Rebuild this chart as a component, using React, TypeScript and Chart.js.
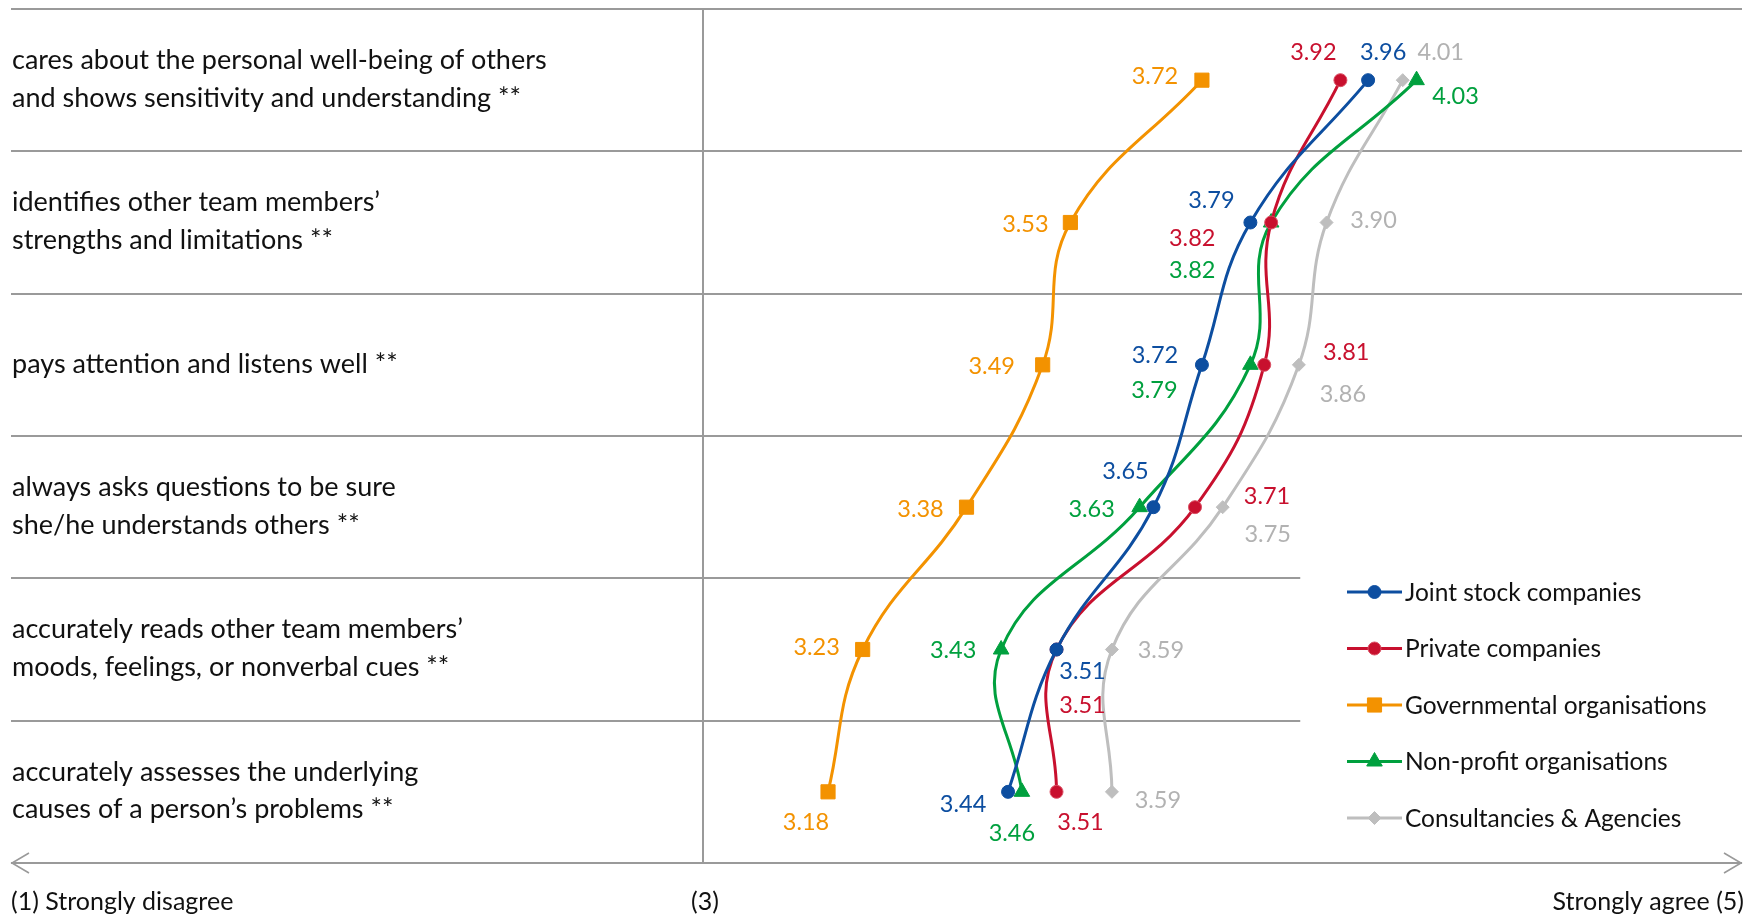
import React, { useEffect, useRef } from 'react';
import { Chart, registerables } from 'chart.js';
import { drawPoint } from 'chart.js/helpers';

Chart.register(...registerables);

// ---------- data ----------
const ROW_LABELS: string[][] = [
  ['cares about the personal well-being of others', 'and shows sensitivity and understanding **'],
  ['identifies other team members’', 'strengths and limitations **'],
  ['pays attention and listens well **'],
  ['always asks questions to be sure', 'she/he understands others **'],
  ['accurately reads other team members’', 'moods, feelings, or nonverbal cues **'],
  ['accurately assesses the underlying', 'causes of a person’s problems **'],
];

const SERIES_NAMES = [
  'Joint stock companies',
  'Private companies',
  'Governmental organisations',
  'Non-profit organisations',
  'Consultancies & Agencies',
];

const JOINT_STOCK = [3.96, 3.79, 3.72, 3.65, 3.51, 3.44];
const PRIVATE = [3.92, 3.82, 3.81, 3.71, 3.51, 3.51];
const GOVERNMENTAL = [3.72, 3.53, 3.49, 3.38, 3.23, 3.18];
const NON_PROFIT = [4.03, 3.82, 3.79, 3.63, 3.43, 3.46];
const CONSULTANCIES = [4.01, 3.9, 3.86, 3.75, 3.59, 3.59];

const AXIS_LABELS = ['(1) Strongly disagree', '(3)', 'Strongly agree (5)'];
const X_MIN = 2;
const X_MAX = 4.5;
const X_MID = 3;
const SHORT_GRID_END = 3.862;

// ---------- styles ----------
const FONT = 'Lato, "Open Sans", "DejaVu Sans", sans-serif';
const GRID_COLOR = '#9A9A9A';
const TEXT_COLOR = '#111111';

const SERIES_STYLE = [
  { color: '#0D4EA0', label: '#0D4EA0', pointStyle: 'circle', radius: 6.5, border: '#0D4EA0' },
  { color: '#C8102E', label: '#C8102E', pointStyle: 'circle', radius: 6.5, border: '#DA5064' },
  { color: '#F39200', label: '#F39200', pointStyle: 'rect', radius: 10, border: '#F39200' },
  { color: '#00A03E', label: '#00A03E', pointStyle: 'triangle', radius: 9, border: '#00A03E' },
  { color: '#BEBEBE', label: '#B2B2B2', pointStyle: 'rectRot', radius: 6.5, border: '#BEBEBE' },
];

// label centre offsets (px) relative to each point
const LABEL_OFFSETS: number[][][] = [
  [[15, -28], [-39, -22], [-47, -9], [-28, -36], [26, 22], [-45, 13]],
  [[-27, -28], [-79, 16], [82, -12], [72, -11], [26, 56], [24, 31]],
  [[-47, -4], [-45, 2], [-51, 2], [-46, 2], [-46, -2], [-22, 31]],
  [[39, 16], [-79, 48], [-96, 26], [-48, 2], [-48, 1], [-10, 42]],
  [[38, -28], [47, -2], [44, 30], [45, 27], [49, 1], [46, 9]],
];

const SERIES_VALUES = [JOINT_STOCK, PRIVATE, GOVERNMENTAL, NON_PROFIT, CONSULTANCIES];

const gridPlugin = {
  id: 'gridPlugin',
  beforeDatasetsDraw(chart: any) {
    const { ctx, chartArea, scales } = chart;
    const x = scales.x;
    const y = scales.y;
    ctx.save();
    ctx.strokeStyle = GRID_COLOR;
    ctx.lineWidth = 2;
    for (let i = 0; i < ROW_LABELS.length; i++) {
      const py = Math.round(y.getPixelForValue(i - 0.5));
      const endX = i >= 4 ? x.getPixelForValue(SHORT_GRID_END) : chartArea.right;
      ctx.beginPath();
      ctx.moveTo(chartArea.left, py);
      ctx.lineTo(endX, py);
      ctx.stroke();
    }
    // vertical midpoint line
    const mx = Math.round(x.getPixelForValue(X_MID));
    ctx.beginPath();
    ctx.moveTo(mx, chartArea.top);
    ctx.lineTo(mx, chartArea.bottom);
    ctx.stroke();
    // bottom axis with arrows
    const by = Math.round(chartArea.bottom);
    ctx.beginPath();
    ctx.moveTo(chartArea.left, by);
    ctx.lineTo(chartArea.right, by);
    ctx.stroke();
    ctx.lineWidth = 1.6;
    ctx.beginPath();
    ctx.moveTo(chartArea.left + 18, by - 10);
    ctx.lineTo(chartArea.left + 1, by);
    ctx.lineTo(chartArea.left + 18, by + 10);
    ctx.moveTo(chartArea.right - 18, by - 10);
    ctx.lineTo(chartArea.right - 1, by);
    ctx.lineTo(chartArea.right - 18, by + 10);
    ctx.stroke();
    // axis labels
    ctx.fillStyle = TEXT_COLOR;
    ctx.font = `25px ${FONT}`;
    ctx.textBaseline = 'middle';
    const ty = by + 39;
    ctx.textAlign = 'left';
    ctx.fillText(AXIS_LABELS[0], x.getPixelForValue(X_MIN), ty);
    ctx.textAlign = 'center';
    ctx.fillText(AXIS_LABELS[1], mx + 2, ty);
    ctx.textAlign = 'right';
    ctx.fillText(AXIS_LABELS[2], x.getPixelForValue(X_MAX) + 2, ty);
    ctx.restore();
  },
};

const labelPlugin = {
  id: 'labelPlugin',
  afterDatasetsDraw(chart: any) {
    const { ctx } = chart;
    ctx.save();
    ctx.font = `23.5px ${FONT}`;
    ctx.textAlign = 'center';
    ctx.textBaseline = 'middle';
    chart.data.datasets.forEach((ds: any, di: number) => {
      const meta = chart.getDatasetMeta(di);
      ctx.fillStyle = SERIES_STYLE[di].label;
      meta.data.forEach((pt: any, i: number) => {
        const [dx, dy] = LABEL_OFFSETS[di][i];
        ctx.fillText(SERIES_VALUES[di][i].toFixed(2), pt.x + dx, pt.y + dy);
      });
    });
    ctx.restore();
  },
};

const legendPlugin = {
  id: 'legendPlugin',
  afterDraw(chart: any) {
    const { ctx } = chart;
    ctx.save();
    const x0 = 1347;
    const x1 = 1402;
    const y0 = 592;
    const step = 56.5;
    ctx.font = `24.5px ${FONT}`;
    ctx.textAlign = 'left';
    ctx.textBaseline = 'middle';
    SERIES_NAMES.forEach((name, i) => {
      const st = SERIES_STYLE[i];
      const y = y0 + i * step;
      ctx.strokeStyle = st.color;
      ctx.lineWidth = 3;
      ctx.beginPath();
      ctx.moveTo(x0, y);
      ctx.lineTo(x1, y);
      ctx.stroke();
      ctx.fillStyle = st.color;
      ctx.strokeStyle = st.border;
      ctx.lineWidth = 1;
      drawPoint(ctx, { pointStyle: st.pointStyle as any, radius: st.radius, rotation: 0, borderWidth: 1 }, (x0 + x1) / 2, y);
      ctx.fillStyle = TEXT_COLOR;
      ctx.fillText(name, x1 + 3, y + 1);
    });
    ctx.restore();
  },
};

export default function App() {
  const canvasRef = useRef<HTMLCanvasElement | null>(null);

  useEffect(() => {
    if (!canvasRef.current) return;
    const datasets = SERIES_NAMES.map((name, di) => {
      const st = SERIES_STYLE[di];
      return {
        label: name,
        data: SERIES_VALUES[di].map((v, i) => ({ x: v, y: i })),
        showLine: true,
        tension: 0.42,
        borderColor: st.color,
        borderWidth: 3,
        backgroundColor: st.color,
        pointStyle: st.pointStyle,
        pointRadius: st.radius,
        pointHoverRadius: st.radius,
        pointBackgroundColor: st.color,
        pointBorderColor: st.border,
        pointBorderWidth: 1,
        clip: false,
      };
    });

    const chart = new Chart(canvasRef.current, {
      type: 'scatter',
      data: { datasets } as any,
      options: {
        animation: false,
        responsive: false,
        devicePixelRatio: 1,
        layout: { autoPadding: false, padding: { left: 11, right: 20, top: 9, bottom: 52 } },
        plugins: {
          legend: { display: false },
          tooltip: { enabled: false },
        },
        scales: {
          x: {
            type: 'linear',
            min: X_MIN,
            max: X_MAX,
            display: false,
          },
          y: {
            type: 'category',
            labels: ROW_LABELS as any,
            offset: true,
            grid: { display: false },
            border: { display: false },
            ticks: {
              mirror: true,
              padding: 1,
              labelOffset: -1,
              color: TEXT_COLOR,
              font: { family: FONT, size: 27, lineHeight: 1.4 },
            },
            afterFit: (s: any) => {
              s.width = 0;
              s.paddingTop = 0;
              s.paddingBottom = 0;
            },
          },
        },
      } as any,
      plugins: [gridPlugin, labelPlugin, legendPlugin],
    });
    return () => chart.destroy();
  }, []);

  return (
    <div style={{ position: 'absolute', left: 0, top: 0, width: 1762, height: 915, background: '#fff' }}>
      <canvas ref={canvasRef} width={1762} height={915} style={{ display: 'block' }} />
    </div>
  );
}
